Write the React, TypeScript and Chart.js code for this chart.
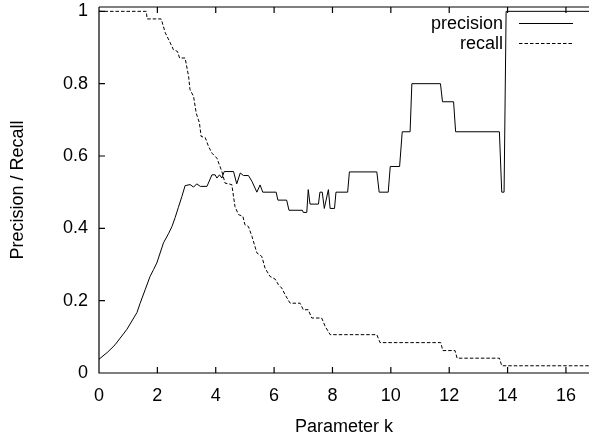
import React, { useEffect, useRef } from "react";
import { Chart, registerables } from "chart.js";

Chart.register(...registerables);

// ---- data ----
const precisionK = [
  0, 0.3, 0.55, 0.95, 1.3, 1.41, 1.58, 1.75, 1.87, 1.98, 2.21, 2.38, 2.5, 2.61, 2.72, 2.84, 2.95,
  3.12, 3.24, 3.35, 3.47, 3.7, 3.87, 3.98, 4.04, 4.13, 4.21, 4.29, 4.61, 4.72, 4.84, 4.95, 5.12,
  5.24, 5.41, 5.52, 5.61, 6.07, 6.13, 6.43, 6.51, 6.97, 7.0, 7.12, 7.17, 7.23, 7.52, 7.57, 7.65,
  7.72, 7.86, 7.92, 8.07, 8.12, 8.52, 8.58, 9.52, 9.6, 9.91, 9.98, 10.3, 10.39, 10.66, 10.72,
  11.7, 11.77, 12.15, 12.22, 13.72, 13.8, 13.88, 13.95, 16.79,
];
const precisionV = [
  0.038, 0.058, 0.078, 0.12, 0.167, 0.193, 0.23, 0.267, 0.286, 0.304, 0.36, 0.385, 0.405, 0.43,
  0.458, 0.488, 0.518, 0.521, 0.514, 0.523, 0.516, 0.516, 0.548, 0.548, 0.539, 0.548, 0.539,
  0.557, 0.557, 0.523, 0.553, 0.546, 0.546, 0.53, 0.5, 0.52, 0.5, 0.5, 0.478, 0.478, 0.45, 0.45,
  0.444, 0.444, 0.507, 0.467, 0.467, 0.5, 0.5, 0.455, 0.507, 0.455, 0.455, 0.5, 0.5, 0.556,
  0.556, 0.5, 0.5, 0.571, 0.571, 0.667, 0.667, 0.8, 0.8, 0.75, 0.75, 0.667, 0.667, 0.5, 0.5,
  1.0, 1.0,
];
const recallK = [
  0, 1.62, 1.65, 2.13, 2.27, 2.44, 2.55, 2.69, 2.76, 2.95, 3.07, 3.12, 3.24, 3.33, 3.44, 3.5,
  3.64, 3.75, 3.87, 4.04, 4.21, 4.32, 4.55, 4.66, 4.78, 4.93, 5.0, 5.12, 5.24, 5.41, 5.58, 5.69,
  5.86, 6.03, 6.15, 6.26, 6.38, 6.55, 6.89, 7.0, 7.17, 7.29, 7.63, 7.75, 7.92, 9.52, 9.63, 11.71,
  11.78, 12.2, 12.27, 13.72, 13.8, 16.79,
];
const recallV = [
  1, 1, 0.979, 0.979, 0.941, 0.913, 0.894, 0.889, 0.871, 0.871, 0.82, 0.783, 0.765, 0.719, 0.692,
  0.654, 0.651, 0.627, 0.608, 0.594, 0.557, 0.525, 0.521, 0.46, 0.438, 0.433, 0.41, 0.405, 0.378,
  0.332, 0.322, 0.29, 0.267, 0.26, 0.244, 0.235, 0.216, 0.193, 0.193, 0.175, 0.175, 0.152,
  0.152, 0.129, 0.106, 0.106, 0.084, 0.084, 0.062, 0.062, 0.041, 0.041, 0.02, 0.02,
];
const xTicks = [0, 2, 4, 6, 8, 10, 12, 14, 16];
const yTicks = [0, 0.2, 0.4, 0.6, 0.8, 1];
const yTickLabels = ["0", "0.2", "0.4", "0.6", "0.8", "1"];
const seriesLabels = ["precision", "recall"];
const xTitle = "Parameter k";
const yTitle = "Precision / Recall";

const FONT = "'Liberation Sans', Arial, Helvetica, sans-serif";
const FS = 18;

const framePlugin = {
  id: "frame",
  afterDatasetsDraw(chart: any) {
    const { ctx, chartArea, scales } = chart;
    const { left, right, top, bottom } = chartArea;
    ctx.save();
    ctx.strokeStyle = "#000";
    ctx.lineWidth = 1.2;
    ctx.beginPath();
    ctx.moveTo(left, top);
    ctx.lineTo(right + 2, top);
    ctx.moveTo(left, top);
    ctx.lineTo(left, bottom);
    ctx.lineTo(right + 2, bottom);
    // inward ticks
    const tl = 6;
    for (const v of xTicks) {
      const x = scales.x.getPixelForValue(v);
      ctx.moveTo(x, bottom);
      ctx.lineTo(x, bottom - tl);
      ctx.moveTo(x, top);
      ctx.lineTo(x, top + tl);
    }
    for (const v of yTicks) {
      const y = scales.y.getPixelForValue(v);
      ctx.moveTo(left, y);
      ctx.lineTo(left + tl, y);
    }
    ctx.stroke();

    // legend (gnuplot style: text right-aligned, then sample)
    ctx.font = `${FS}px ${FONT}`;
    ctx.fillStyle = "#000";
    ctx.textAlign = "right";
    ctx.textBaseline = "middle";
    const rows = [23, 43];
    chart.data.datasets.forEach((ds: any, i: number) => {
      const y = rows[i];
      ctx.fillText(ds.label, 503, y + 1);
      ctx.beginPath();
      ctx.lineWidth = 1;
      ctx.setLineDash(ds.borderDash || []);
      ctx.moveTo(519, y + 0.5);
      ctx.lineTo(573, y + 0.5);
      ctx.stroke();
      ctx.setLineDash([]);
    });
    ctx.restore();
  },
};

export default function App() {
  const ref = useRef<HTMLCanvasElement>(null);
  useEffect(() => {
    const canvas = ref.current!;
    const chart = new Chart(canvas, {
      type: "scatter",
      data: {
        datasets: [
          {
            label: seriesLabels[0],
            data: precisionK.map((k, i) => ({ x: k, y: precisionV[i] })),
            showLine: true,
            borderColor: "#000",
            borderWidth: 1,
            pointRadius: 0,
            tension: 0,
          },
          {
            label: seriesLabels[1],
            data: recallK.map((k, i) => ({ x: k, y: recallV[i] })),
            showLine: true,
            borderColor: "#000",
            borderWidth: 1,
            borderDash: [3.5, 2],
            pointRadius: 0,
            tension: 0,
          },
        ],
      },
      plugins: [framePlugin],
      options: {
        animation: false,
        responsive: false,
        devicePixelRatio: 1,
        clip: false,
        layout: { padding: { left: 0, right: 0, top: 7, bottom: 0 } },
        plugins: { legend: { display: false }, tooltip: { enabled: false } },
        scales: {
          x: {
            type: "linear",
            min: 0,
            max: 16.79,
            grid: { display: false, drawTicks: false },
            border: { display: false },
            afterFit: (s: any) => {
              s.height = 66;
              s.paddingLeft = 0;
              s.paddingRight = 0;
            },
            afterBuildTicks: (s: any) => {
              s.ticks = xTicks.map((v) => ({ value: v }));
            },
            ticks: {
              padding: 12,
              maxRotation: 0,
              autoSkip: false,
              color: "#000",
              font: { family: FONT, size: FS },
              callback: (v: any) => String(v),
            },
            title: {
              display: true,
              text: xTitle,
              color: "#000",
              font: { family: FONT, size: FS },
              padding: { top: 1, bottom: 1 },
            },
          },
          y: {
            type: "linear",
            min: 0,
            max: 1.012,
            grid: { display: false, drawTicks: false },
            border: { display: false },
            afterFit: (s: any) => {
              s.width = 99;
              s.paddingTop = 0;
              s.paddingBottom = 0;
            },
            afterBuildTicks: (s: any) => {
              s.ticks = yTicks.map((v) => ({ value: v }));
            },
            ticks: {
              padding: 11,
              autoSkip: false,
              color: "#000",
              font: { family: FONT, size: FS },
              callback: (v: any) => {
                const i = yTicks.indexOf(v);
                return i >= 0 ? yTickLabels[i] : "";
              },
            },
            title: {
              display: true,
              text: yTitle,
              color: "#000",
              font: { family: FONT, size: FS },
              padding: { top: 7, bottom: 0 },
            },
          },
        },
      },
    });
    return () => chart.destroy();
  }, []);
  return (
    <div style={{ position: "absolute", left: 0, top: 0, width: 589, height: 439, background: "#fff" }}>
      <canvas ref={ref} width={589} height={439} style={{ display: "block", width: 589, height: 439 }} />
    </div>
  );
}
